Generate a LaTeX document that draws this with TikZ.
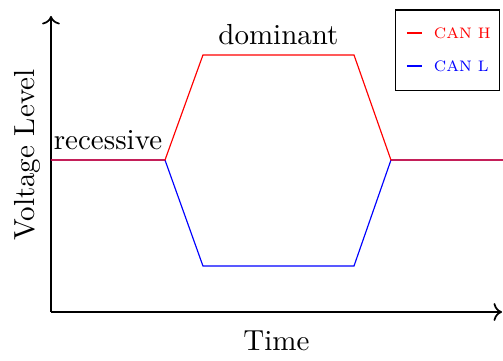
\documentclass[tikz,border=0pt]{standalone}
\usepackage{tikz}
\usetikzlibrary{arrows.meta, positioning}

\begin{document}
\begin{tikzpicture}[
    axis/.style={->, semithick},
    signal/.style={line width=0.4pt},
    label/.style={font=\normalsize, align=center, text=black},
    legendbox/.style={rectangle, draw, minimum width=1.26cm, minimum height=0.98cm},
    legendtext/.style={font=\scriptsize, scale=0.75, anchor=west, inner sep=1pt}
]
    \useasboundingbox (-0.618,-0.582) rectangle (5.479,3.782);
    % axes
    \coordinate (origin) at (0,0);
    \coordinate (xend) at (5.467,0);
    \coordinate (yend) at (0,3.588);
    \draw[axis] (origin) -- node[label, below=3pt] (time) {Time} (xend);
    \draw[axis] (origin) -- node[label, rotate=90, anchor=south, pos=0.53] (volt) {Voltage Level} (yend);
    % bus levels
    \coordinate (r0) at (0,1.842);
    \coordinate (r1) at (1.382,1.842);
    \coordinate (h1) at (1.842,3.115);
    \coordinate (h2) at (3.673,3.115);
    \coordinate (l1) at (1.842,0.558);
    \coordinate (l2) at (3.673,0.558);
    \coordinate (r2) at (4.121,1.842);
    \coordinate (r3) at (5.479,1.842);
    \draw[signal, blue] (r0) -- (r1) -- (l1) -- (l2) -- (r2) -- (r3);
    \draw[signal, red] (r0) -- node[label, above] (rec) {recessive} (r1) -- (h1)
        -- node[label, above] (dom) {dominant} (h2) -- (r2) -- (r3);
    % legend
    \node[legendbox] (legend) at (4.81,3.17) {};
    \node[legendtext, red] (canh) at (4.61,3.38) {CAN H};
    \node[legendtext, blue] (canl) at (4.61,2.98) {CAN L};
    \draw[red, semithick] (4.315,3.38) -- (4.50,3.38);
    \draw[blue, semithick] (4.315,2.98) -- (4.50,2.98);
\end{tikzpicture}
\end{document}
